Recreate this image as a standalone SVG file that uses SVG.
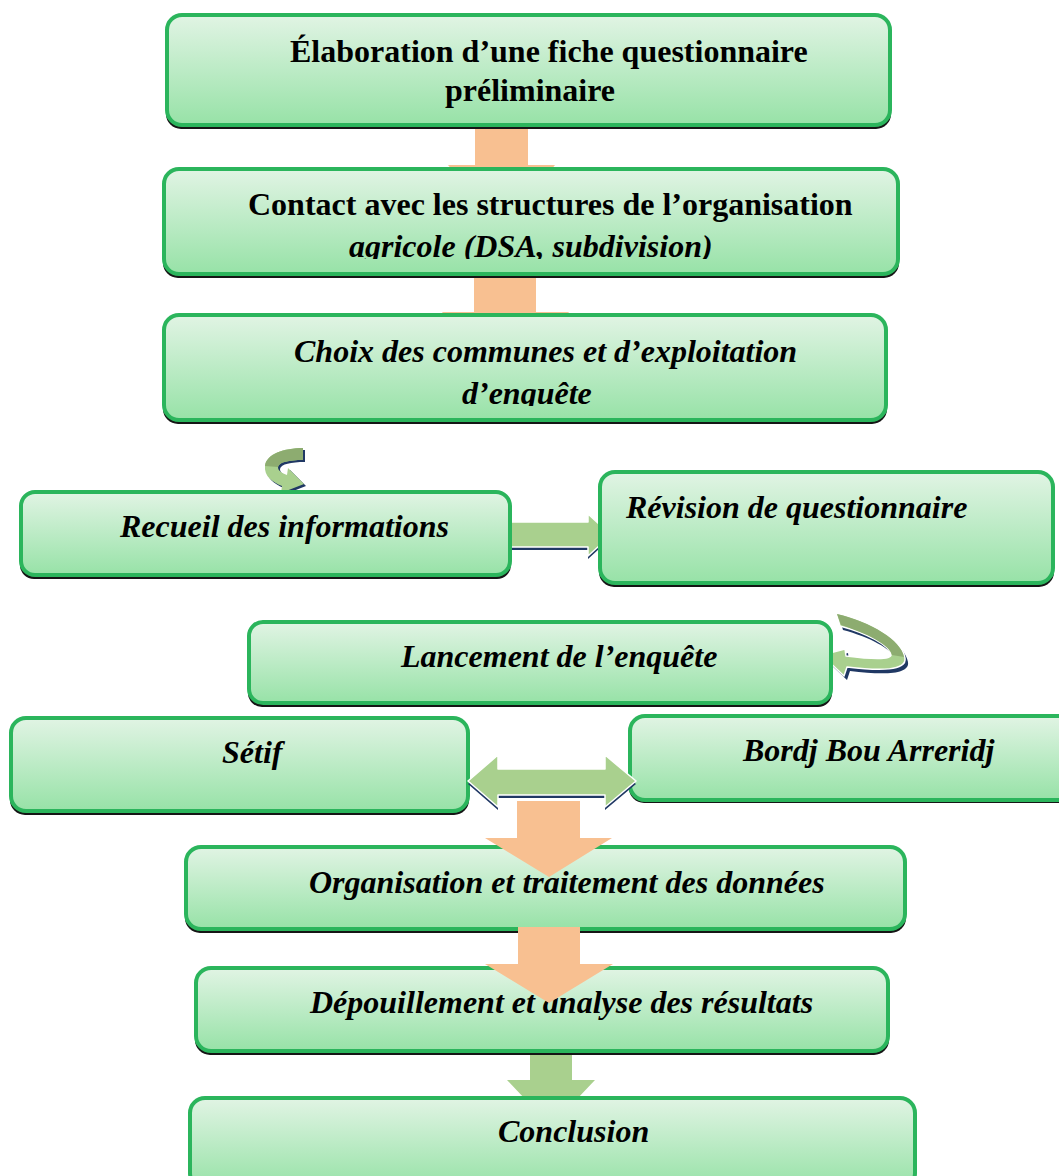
<svg xmlns="http://www.w3.org/2000/svg" width="1059" height="1176" viewBox="0 0 1059 1176">
<defs>
  <linearGradient id="g" x1="0" y1="0" x2="0" y2="1">
    <stop offset="0" stop-color="#e1f4e4"/>
    <stop offset="1" stop-color="#97e2a7"/>
  </linearGradient>
  <clipPath id="c2"><rect x="150" y="150" width="760" height="109"/></clipPath>
  <clipPath id="c3"><rect x="150" y="300" width="760" height="106"/></clipPath>
  <style>
    .sh{fill:#151515}
    .bx{fill:url(#g);stroke:#2bb55c;stroke-width:4}
    .t{font-family:"Liberation Serif","Times New Roman",serif;font-size:32px;font-weight:bold;fill:#000}
    .i{font-style:italic}
    .or{fill:#f8c091}
    .gr{fill:#a9d08e}
    .gd{fill:#8dac70}
    .nv{fill:#203864}
    .wo{stroke:#ffffff;stroke-width:1.5;stroke-linejoin:round}
  </style>
</defs>
<rect width="1059" height="1176" fill="#ffffff"/>

<g id="connectors">
  <polygon class="or" points="475,126 528,126 528,165 555,165 551,170 452,170 448,165 475,165"/>
  <polygon class="or" points="474,274 536,274 536,312 569,312 566,316 445,316 442,312 474,312"/>
  <polygon class="gr" points="530,1052 572,1052 572,1080 595,1080 577,1099 525,1099 507,1080 530,1080"/>
  <path class="nv" transform="translate(2,2)" d="M 303 448 C 284 448 266 454 265 466 C 264 476 272 482 282 486 L 281 493 L 304 484 L 288 468 L 287 475 C 282 473 278 471 278 467 C 279 462 289 460 303 460 Z"/>
  <path class="gr" d="M 303 448 C 284 448 266 454 265 466 C 264 476 272 482 282 486 L 281 493 L 304 484 L 288 468 L 287 475 C 282 473 278 471 278 467 C 279 462 289 460 303 460 Z"/>
  <path class="gd" d="M 303 448 C 284 448 266 454 265 466 L 278 467 C 279 462 289 460 303 460 Z"/>
  <polygon class="nv" transform="translate(0,3)" points="510,522 588,522 588,514 611,535 588,556 588,547 510,547"/>
  <polygon class="gr wo" points="510,522 588,522 588,514 611,535 588,556 588,547 510,547"/>
  <path class="nv" transform="translate(3,4)" d="M 836 613 C 871 621 902 640 905 658 C 907 671 880 671 847 667 L 844 676 L 822 655 L 845 649 L 846 656 C 870 659 891 660 891 655 C 890 645 866 633 840 626 Z"/>
  <path class="gr wo" d="M 836 613 C 871 621 902 640 905 658 C 907 671 880 671 847 667 L 844 676 L 822 655 L 845 649 L 846 656 C 870 659 891 660 891 655 C 890 645 866 633 840 626 Z"/>
  <path class="gd" d="M 837 614 C 871 622 901 640 904 657 L 892 655 C 890 645 866 633 841 625 Z"/>
</g>

<g id="n1">
  <rect class="sh" x="166" y="18" width="725" height="111" rx="15"/>
  <rect class="bx" x="167" y="15" width="723" height="110" rx="15"/>
  <text class="t" x="290" y="62">Élaboration d’une fiche questionnaire</text>
  <text class="t" x="445" y="101">préliminaire</text>
</g>
<g id="n2">
  <rect class="sh" x="163" y="172" width="736" height="106" rx="15"/>
  <rect class="bx" x="164" y="169" width="734" height="105" rx="15"/>
  <text class="t" x="248" y="215">Contact avec les structures de l’organisation</text>
  <text class="t i" x="349" y="257" clip-path="url(#c2)">agricole (DSA, subdivision)</text>
</g>
<g id="n3">
  <rect class="sh" x="163" y="318" width="724" height="106" rx="15"/>
  <rect class="bx" x="164" y="315" width="722" height="105" rx="15"/>
  <text class="t i" x="294" y="362">Choix des communes et d’exploitation</text>
  <text class="t i" x="462" y="404" clip-path="url(#c3)">d’enquête</text>
</g>
<g id="n4">
  <rect class="sh" x="20" y="495" width="491" height="84" rx="14"/>
  <rect class="bx" x="21" y="492" width="489" height="83" rx="14"/>
  <text class="t i" x="120" y="537">Recueil des informations</text>
</g>
<g id="n5">
  <rect class="sh" x="599" y="475" width="455" height="112" rx="15"/>
  <rect class="bx" x="600" y="472" width="453" height="111" rx="15"/>
  <text class="t i" x="626" y="518">Révision de questionnaire</text>
</g>
<g id="n6">
  <rect class="sh" x="248" y="625" width="584" height="82" rx="14"/>
  <rect class="bx" x="249" y="622" width="582" height="81" rx="14"/>
  <text class="t i" x="401" y="667">Lancement de l’enquête</text>
</g>
<g id="n7">
  <rect class="sh" x="10" y="721" width="459" height="94" rx="15"/>
  <rect class="bx" x="11" y="718" width="457" height="93" rx="15"/>
  <text class="t i" x="222" y="763">Sétif</text>
</g>
<g id="n8">
  <rect class="sh" x="629" y="719" width="450" height="84" rx="15"/>
  <rect class="bx" x="630" y="716" width="450" height="84" rx="15"/>
  <text class="t i" x="743" y="761">Bordj Bou Arreridj</text>
</g>

<g id="connectors-2">
  <polygon class="nv" transform="translate(0,3)" points="468,781 498,755 498,769 605,769 605,755 636,781 605,807 605,795 498,795 498,807"/>
  <polygon class="gr wo" points="468,781 498,755 498,769 605,769 605,755 636,781 605,807 605,795 498,795 498,807"/>
</g>

<g id="n9">
  <rect class="sh" x="185" y="850" width="721" height="83" rx="15"/>
  <rect class="bx" x="186" y="847" width="719" height="82" rx="15"/>
  <text class="t i" x="309" y="893">Organisation et traitement des données</text>
</g>
<g id="n10">
  <rect class="sh" x="195" y="971" width="694" height="84" rx="15"/>
  <rect class="bx" x="196" y="968" width="692" height="83" rx="15"/>
  <text class="t i" x="310" y="1013">Dépouillement et analyse des résultats</text>
</g>
<g id="n11">
  <rect class="sh" x="189" y="1101" width="727" height="90" rx="15"/>
  <rect class="bx" x="190" y="1098" width="725" height="90" rx="15"/>
  <text class="t i" x="498" y="1142">Conclusion</text>
</g>

<g id="connectors-3">
  <polygon class="or" points="517,801 580,801 580,838 612,838 549,877 485,838 517,838"/>
  <polygon class="or" points="518,927 580,927 580,964 613,964 549,1003 485,964 518,964"/>
</g>
</svg>
